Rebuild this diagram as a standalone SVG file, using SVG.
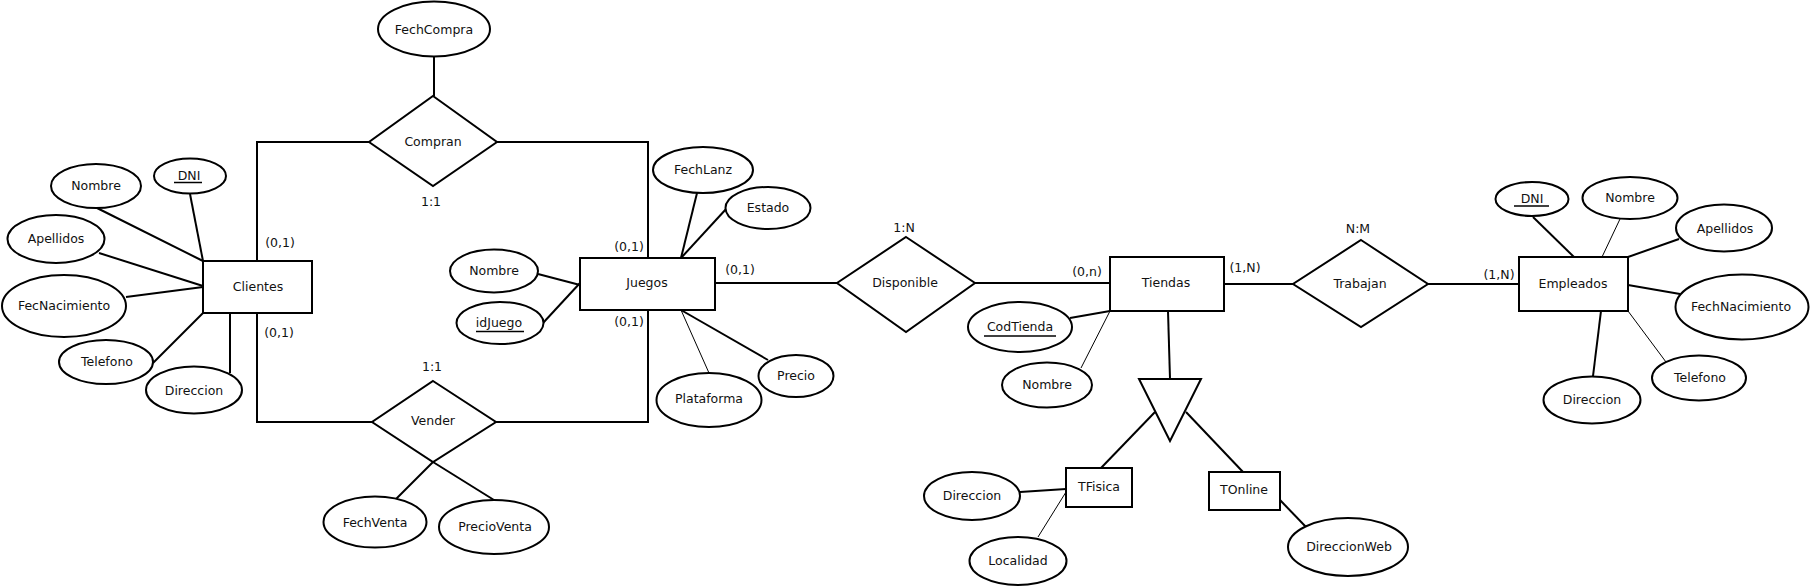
<svg xmlns="http://www.w3.org/2000/svg" width="1812" height="588" viewBox="0 0 1812 588">
<style>
.s{fill:#fff;stroke:#000;stroke-width:2}
.l{stroke:#000;stroke-width:2;fill:none}
.th{stroke-width:1}
.u{stroke:#000;stroke-width:1.5}
text{font-family:"DejaVu Sans",sans-serif;font-size:12.5px;text-anchor:middle;fill:#111}
</style>
<rect width="1812" height="588" fill="#fff"/>
<g id="connectors">
<line class="l" x1="434" y1="57" x2="434" y2="96"/>
<polyline class="l" points="369,142 257,142 257,261"/>
<polyline class="l" points="497,142 648,142 648,258"/>
<polyline class="l" points="257,313 257,422 372,422"/>
<polyline class="l" points="496,422 648,422 648,310"/>
<line class="l" x1="433" y1="462" x2="396" y2="499"/>
<line class="l" x1="433" y1="462" x2="494" y2="500"/>
<line class="l" x1="190" y1="194" x2="203" y2="261"/>
<line class="l" x1="97" y1="208" x2="203" y2="261"/>
<line class="l" x1="99" y1="253" x2="203" y2="286"/>
<line class="l" x1="126" y1="297" x2="203" y2="287"/>
<line class="l" x1="153" y1="363" x2="203" y2="313"/>
<line class="l" x1="230" y1="313" x2="230" y2="373"/>
<line class="l" x1="538" y1="274" x2="580" y2="285"/>
<line class="l" x1="543" y1="323" x2="580" y2="283"/>
<line class="l" x1="697" y1="193" x2="681" y2="258"/>
<line class="l" x1="727" y1="208" x2="681" y2="258"/>
<line class="l th" x1="709" y1="373" x2="681" y2="310"/>
<line class="l" x1="768" y1="360" x2="681" y2="310"/>
<line class="l" x1="715" y1="283" x2="837" y2="283"/>
<line class="l" x1="975" y1="283" x2="1110" y2="283"/>
<line class="l" x1="1070" y1="318" x2="1110" y2="311"/>
<line class="l th" x1="1081" y1="368" x2="1110" y2="311"/>
<line class="l" x1="1168" y1="311" x2="1170" y2="379"/>
<line class="l" x1="1155" y1="412" x2="1101" y2="468"/>
<line class="l" x1="1186" y1="412" x2="1243" y2="472"/>
<line class="l" x1="1020" y1="492" x2="1066" y2="489"/>
<line class="l th" x1="1038" y1="537" x2="1066" y2="492"/>
<line class="l" x1="1280" y1="500" x2="1306" y2="527"/>
<line class="l" x1="1224" y1="284" x2="1293" y2="284"/>
<line class="l" x1="1428" y1="284" x2="1519" y2="284"/>
<line class="l" x1="1533" y1="217" x2="1574" y2="257"/>
<line class="l th" x1="1620" y1="219" x2="1602" y2="257"/>
<line class="l" x1="1679" y1="239" x2="1628" y2="257"/>
<line class="l" x1="1628" y1="285" x2="1680" y2="294"/>
<line class="l th" x1="1628" y1="311" x2="1666" y2="362"/>
<line class="l" x1="1601" y1="311" x2="1593" y2="376"/>
</g>
<g id="labels">
<text x="431" y="206">1:1</text>
<text x="280" y="247">(0,1)</text>
<text x="279" y="337">(0,1)</text>
<text x="432" y="371">1:1</text>
<text x="629" y="251">(0,1)</text>
<text x="629" y="326">(0,1)</text>
<text x="740" y="274">(0,1)</text>
<text x="904" y="232">1:N</text>
<text x="1087" y="276">(0,n)</text>
<text x="1245" y="272">(1,N)</text>
<text x="1358" y="233">N:M</text>
<text x="1499" y="279">(1,N)</text>
</g>
<g id="Clientes"><rect class="s" x="203" y="261" width="109" height="52"/><text x="258" y="291">Clientes</text></g>
<g id="Juegos"><rect class="s" x="580" y="258" width="135" height="52"/><text x="647" y="287">Juegos</text></g>
<g id="Tiendas"><rect class="s" x="1110" y="257" width="114" height="54"/><text x="1166" y="287">Tiendas</text></g>
<g id="Empleados"><rect class="s" x="1519" y="257" width="109" height="54"/><text x="1573" y="288">Empleados</text></g>
<g id="TFisica"><rect class="s" x="1066" y="468" width="66" height="39"/><text x="1099" y="491">TFisica</text></g>
<g id="TOnline"><rect class="s" x="1209" y="472" width="71" height="38"/><text x="1244" y="494">TOnline</text></g>
<g id="Compran"><polygon class="s" points="433,96 497,142 433,186 369,142"/><text x="433" y="146">Compran</text></g>
<g id="Vender"><polygon class="s" points="433,381 496,422 433,462 372,422"/><text x="433" y="425">Vender</text></g>
<g id="Disponible"><polygon class="s" points="906,237 975,283 906,332 837,283"/><text x="905" y="287">Disponible</text></g>
<g id="Trabajan"><polygon class="s" points="1361,240 1428,284 1361,327 1293,284"/><text x="1360" y="288">Trabajan</text></g>
<g id="ISA"><polygon class="s" points="1139,379 1201,379 1170,441"/></g>
<g id="FechCompra"><ellipse class="s" cx="434" cy="29" rx="56" ry="27.5"/><text x="434" y="34">FechCompra</text></g>
<g id="ClientesNombre"><ellipse class="s" cx="96" cy="186" rx="45" ry="22"/><text x="96" y="190">Nombre</text></g>
<g id="ClientesDNI"><ellipse class="s" cx="190" cy="176" rx="36" ry="17.5"/><text x="189" y="180">DNI</text><line class="u" x1="174" y1="182.5" x2="202" y2="182.5"/></g>
<g id="ClientesApellidos"><ellipse class="s" cx="56" cy="239" rx="48.5" ry="24"/><text x="56" y="243">Apellidos</text></g>
<g id="FecNacimiento"><ellipse class="s" cx="64" cy="306" rx="62" ry="31"/><text x="64" y="310">FecNacimiento</text></g>
<g id="ClientesTelefono"><ellipse class="s" cx="106" cy="362" rx="47" ry="22"/><text x="107" y="366">Telefono</text></g>
<g id="ClientesDireccion"><ellipse class="s" cx="194" cy="390" rx="48" ry="23.5"/><text x="194" y="395">Direccion</text></g>
<g id="FechVenta"><ellipse class="s" cx="375" cy="522" rx="51.5" ry="25.5"/><text x="375" y="527">FechVenta</text></g>
<g id="PrecioVenta"><ellipse class="s" cx="494" cy="527" rx="55" ry="27"/><text x="495" y="531">PrecioVenta</text></g>
<g id="JuegosNombre"><ellipse class="s" cx="494" cy="271" rx="44" ry="21.5"/><text x="494" y="275">Nombre</text></g>
<g id="idJuego"><ellipse class="s" cx="500" cy="323" rx="43.5" ry="21"/><text x="499" y="327">idJuego</text><line class="u" x1="476" y1="331.5" x2="524" y2="331.5"/></g>
<g id="FechLanz"><ellipse class="s" cx="703" cy="170" rx="50" ry="23"/><text x="703" y="174">FechLanz</text></g>
<g id="Estado"><ellipse class="s" cx="768" cy="208" rx="42.5" ry="21"/><text x="768" y="212">Estado</text></g>
<g id="Plataforma"><ellipse class="s" cx="709" cy="400" rx="52.5" ry="27"/><text x="709" y="403">Plataforma</text></g>
<g id="Precio"><ellipse class="s" cx="796" cy="376" rx="37.5" ry="21"/><text x="796" y="380">Precio</text></g>
<g id="CodTienda"><ellipse class="s" cx="1020" cy="327" rx="52" ry="25"/><text x="1020" y="331">CodTienda</text><line class="u" x1="984" y1="336" x2="1056" y2="336"/></g>
<g id="TiendasNombre"><ellipse class="s" cx="1047" cy="385" rx="45" ry="22.5"/><text x="1047" y="389">Nombre</text></g>
<g id="TFisicaDireccion"><ellipse class="s" cx="972" cy="496" rx="48" ry="24"/><text x="972" y="500">Direccion</text></g>
<g id="Localidad"><ellipse class="s" cx="1018" cy="561" rx="48.5" ry="24"/><text x="1018" y="565">Localidad</text></g>
<g id="DireccionWeb"><ellipse class="s" cx="1348" cy="547" rx="60" ry="29"/><text x="1349" y="551">DireccionWeb</text></g>
<g id="EmpleadosDNI"><ellipse class="s" cx="1532" cy="199" rx="36.5" ry="17"/><text x="1532" y="203">DNI</text><line class="u" x1="1514" y1="206" x2="1549" y2="206"/></g>
<g id="EmpleadosNombre"><ellipse class="s" cx="1630" cy="198" rx="47.5" ry="21"/><text x="1630" y="202">Nombre</text></g>
<g id="EmpleadosApellidos"><ellipse class="s" cx="1724" cy="228" rx="48" ry="23.5"/><text x="1725" y="233">Apellidos</text></g>
<g id="FechNacimiento"><ellipse class="s" cx="1742" cy="307" rx="66.5" ry="32.5"/><text x="1741" y="311">FechNacimiento</text></g>
<g id="EmpleadosTelefono"><ellipse class="s" cx="1699" cy="378" rx="47" ry="22.5"/><text x="1700" y="382">Telefono</text></g>
<g id="EmpleadosDireccion"><ellipse class="s" cx="1592" cy="400" rx="48.5" ry="23.5"/><text x="1592" y="404">Direccion</text></g>
</svg>
